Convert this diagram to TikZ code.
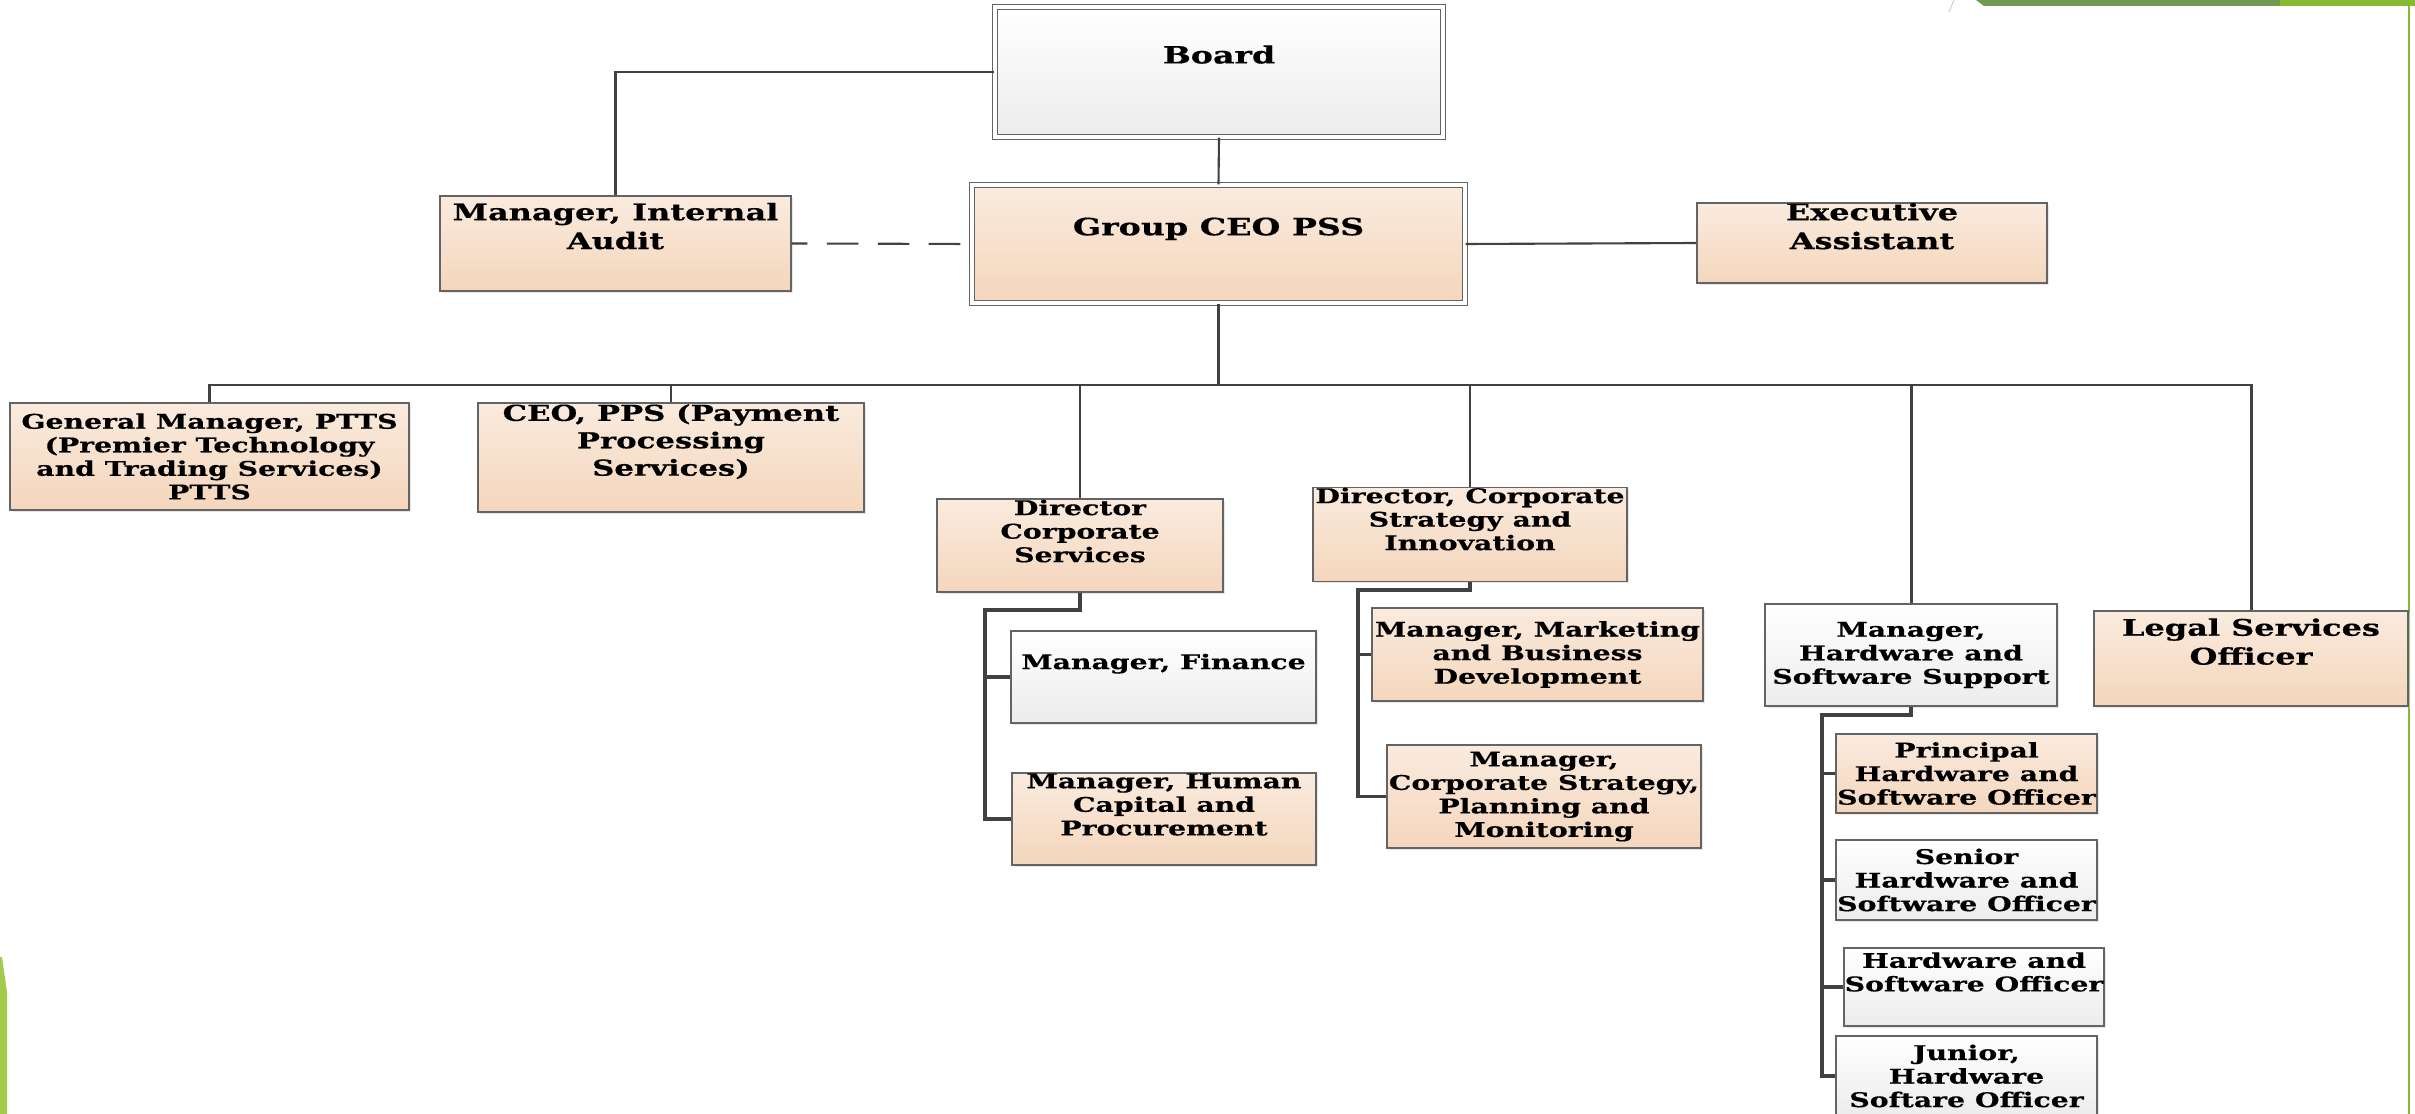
\documentclass[tikz,border=0pt]{standalone}
\usepackage{fontspec}
\usetikzlibrary{shadows}
\newfontfamily\orgfont{DejaVu Serif}[FakeStretch=1.4, FakeBold=0.5]

\definecolor{peachtop}{RGB}{250,235,222}
\definecolor{peachbot}{RGB}{244,214,188}
\definecolor{palebot}{RGB}{236,236,236}
\definecolor{boxline}{RGB}{100,100,100}
\definecolor{linkcol}{RGB}{65,65,65}
\definecolor{leafgreen}{RGB}{134,184,50}
\definecolor{darkgreen}{RGB}{110,155,80}
\definecolor{slidegreen}{RGB}{162,203,76}

\tikzset{
  box/.style={draw=boxline, line width=0.8pt, align=center, inner sep=0pt,
    font=\orgfont\bfseries\fontsize{11.5}{13.4}\selectfont,
    drop shadow={shadow xshift=1.2pt, shadow yshift=-1.2pt, fill=black!18}},
  peach/.style={top color=peachtop, bottom color=peachbot},
  pale/.style={top color=white, bottom color=palebot},
  framed/.style={double=white, double distance=2.2pt, line width=0.7pt},
  bigtext/.style={font=\orgfont\bfseries\fontsize{13.5}{16.5}\selectfont},
  midtext/.style={font=\orgfont\bfseries\fontsize{13}{16.4}\selectfont},
  ppstext/.style={font=\orgfont\bfseries\fontsize{12.5}{15.6}\selectfont},
  lift/.style={text depth=#1},
  link/.style={draw=linkcol, line width=1.2pt},
  sublink/.style={draw=linkcol, line width=2.2pt},
}

\begin{document}
\begin{tikzpicture}[x=0.02cm, y=-0.02cm]
    \fill[white] (0,0) rectangle (2415,1114);
    \useasboundingbox (0,0) rectangle (2415,1114);

    % slide trim
    \fill[darkgreen] (1976,0) -- (2280,0) -- (2280,6) -- (1984,6) -- cycle;
    \fill[leafgreen] (2280,0) rectangle (2415,6);
    \draw[leafgreen, line width=0.8pt] (2409,0) -- (2409,1114);
    \fill[slidegreen] (0,957) -- (2,957) -- (7,992) -- (7,1114) -- (0,1114) -- cycle;
    \draw[black!25] (1954,0) .. controls (1952,6) .. (1949,12);

    % top of the chart
    \node[box, pale, framed, bigtext, lift=20pt, minimum width=8.96cm, minimum height=2.6cm] (board) at (1219,72) {Board};
    \node[box, peach, framed, bigtext, lift=20pt, minimum width=9.86cm, minimum height=2.36cm] (ceo) at (1218.5,244) {Group CEO PSS};
    \node[box, peach, midtext, lift=20pt, minimum width=7.02cm, minimum height=1.9cm] (audit) at (615.5,243.5) {Manager, Internal\\Audit};
    \node[box, peach, midtext, lift=19.4pt, minimum width=7.0cm, minimum height=1.56cm] (exec) at (1872,243) {Executive\\Assistant};

    % second row
    \node[box, peach, minimum width=7.98cm, minimum height=2.14cm] (gm) at (209.5,456.5) {General Manager, PTTS\\(Premier Technology\\and Trading Services)\\PTTS};
    \node[box, peach, ppstext, lift=20pt, minimum width=7.72cm, minimum height=2.18cm] (pps) at (671,457.5) {CEO, PPS (Payment\\Processing\\Services)};
    \node[box, peach, lift=16.6pt, minimum width=5.72cm, minimum height=1.86cm] (dircs) at (1080,545.5) {Director\\Corporate\\Services};
    \node[box, peach, lift=17.7pt, minimum width=6.28cm, minimum height=1.86cm] (dircsi) at (1470,534.5) {Director, Corporate\\Strategy and\\Innovation};
    \node[box, pale, minimum width=5.84cm, minimum height=2.04cm] (hws) at (1911,655) {Manager,\\Hardware and\\Software Support};
    \node[box, peach, midtext, lift=19.4pt, minimum width=6.28cm, minimum height=1.9cm] (legal) at (2251,658.5) {Legal Services\\Officer};

    % corporate services
    \node[box, pale, lift=17.7pt, minimum width=6.1cm, minimum height=1.84cm] (fin) at (1163.5,677) {Manager, Finance};
    \node[box, peach, lift=16.6pt, minimum width=6.08cm, minimum height=1.84cm] (hc) at (1164,819) {Manager, Human\\Capital and\\Procurement};

    % strategy and innovation
    \node[box, peach, minimum width=6.62cm, minimum height=1.86cm] (mbd) at (1537.5,654.5) {Manager, Marketing\\and Business\\Development};
    \node[box, peach, minimum width=6.28cm, minimum height=2.06cm] (csp) at (1544,796.5) {Manager,\\Corporate Strategy,\\Planning and\\Monitoring};

    % hardware and software
    \node[box, peach, minimum width=5.22cm, minimum height=1.58cm] (phs) at (1966.5,773.5) {Principal\\Hardware and\\Software Officer};
    \node[box, pale, minimum width=5.22cm, minimum height=1.6cm] (senior) at (1966.5,880) {Senior\\Hardware and\\Software Officer};
    \node[box, pale, lift=17.2pt, minimum width=5.2cm, minimum height=1.56cm] (hso) at (1974,987) {Hardware and\\Software Officer};
    \node[box, pale, minimum width=5.22cm, minimum height=1.6cm] (junior) at (1966.5,1076) {Junior,\\Hardware\\Softare Officer};

    % connectors
    \coordinate (bus) at (1218.5,385);
    \coordinate (csbend) at (985,610);
    \coordinate (sibend) at (1358,590);
    \coordinate (hwbend) at (1822,715);

    \draw[link] (board.west) -| (audit.north);
    \draw[link] (board.south) -- (ceo.north);
    \draw[link, dash pattern=on 18pt off 11pt, dash phase=9pt] (audit.east) -- (ceo.west);
    \draw[link] (ceo.east) -- (exec.west);
    \draw[link, line width=1.9pt] (ceo.south) -- (bus);
    \draw[link, line width=1.7pt] (bus) -| (gm.north);
    \draw[link, line width=1.7pt] (bus) -| (pps.north);
    \draw[link] (bus) -| (dircs.north);
    \draw[link] (bus) -| (dircsi.north);
    \draw[link, line width=1.7pt] (bus) -| (hws.north);
    \draw[link, line width=1.7pt] (bus) -| (legal.north);

    \draw[sublink] (dircs.south) |- (csbend) |- (hc.west);
    \draw[sublink] (csbend) |- (fin.west);
    \draw[sublink] (dircsi.south) |- (sibend) |- (csp.west);
    \draw[sublink] (sibend) |- (mbd.west);
    \draw[sublink] (hws.south) |- (hwbend) |- (junior.west);
    \draw[sublink] (hwbend) |- (phs.west);
    \draw[sublink] (hwbend) |- (senior.west);
    \draw[sublink] (hwbend) |- (hso.west);
\end{tikzpicture}
\end{document}
